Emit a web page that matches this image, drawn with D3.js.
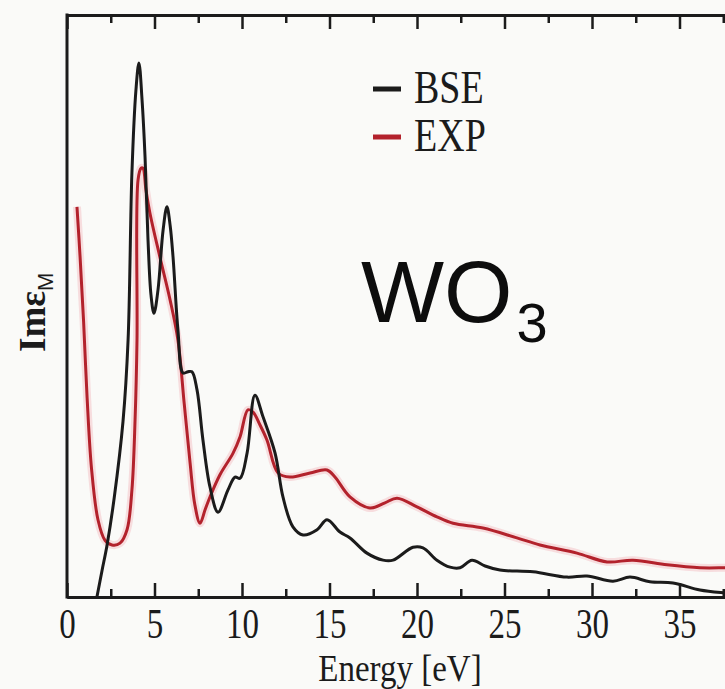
<!DOCTYPE html>
<html>
<head>
<meta charset="utf-8">
<script src="https://cdn.jsdelivr.net/npm/d3@7"></script>
<style>
  html, body { margin: 0; padding: 0; background: #fafaf8; }
  svg { display: block; }
</style>
</head>
<body>
<svg id="chart" width="725" height="689"></svg>
<script>
// Imaginary part of the macroscopic dielectric function of WO3
// Energy in eV, intensity in arbitrary units (0–100)
const bseEnergy = [1.71, 2.0, 2.29, 2.7, 3.2, 3.49, 3.71, 3.94, 4.11, 4.29, 4.46, 4.63, 4.80, 4.97, 5.20, 5.49, 5.71, 5.89, 6.06, 6.34, 6.63, 6.91, 7.14, 7.43, 7.77, 8.17, 8.63, 9.20, 9.60, 9.89, 10.29, 10.74, 11.20, 11.89, 12.34, 12.91, 13.49, 14.29, 14.86, 15.60, 16.17, 17.14, 18.06, 18.63, 19.77, 20.34, 21.14, 21.89, 22.46, 23.14, 23.89, 24.74, 26.63, 28.57, 29.71, 31.2, 32.17, 33.31, 34.63, 36.17, 37.6, 38.0];
const bseValue  = [0, 4.5, 8.9, 17, 30, 43.9, 72.5, 86.7, 91.3, 84.9, 75.2, 61.0, 51.6, 48.5, 52.5, 62.7, 66.7, 63.6, 58.1, 45.6, 38.3, 38.5, 38.5, 35.4, 26.8, 18.8, 14.5, 18.3, 20.5, 20.3, 24.6, 34.5, 30.8, 24.6, 17.1, 12.0, 10.6, 11.5, 13.2, 11.1, 10.1, 7.5, 6.3, 6.3, 8.5, 8.4, 6.3, 5.1, 5.0, 6.3, 5.3, 4.6, 4.3, 3.4, 3.6, 2.7, 3.4, 2.6, 2.4, 1.2, 0.7, 0.6];

const expEnergy = [0.57, 0.75, 0.95, 1.15, 1.4, 1.77, 2.17, 2.57, 3.03, 3.43, 3.71, 3.89, 4.0, 4.06, 4.23, 4.34, 4.51, 4.74, 5.31, 5.89, 6.34, 6.7, 7.03, 7.31, 7.6, 7.89, 8.17, 8.74, 9.49, 9.89, 10.34, 10.63, 11.03, 11.43, 12.06, 12.74, 13.89, 14.86, 15.31, 16.17, 17.31, 18.17, 18.86, 20.0, 21.14, 22.06, 23.77, 25.71, 27.03, 29.14, 30.86, 32.34, 34.29, 36.17, 37.6, 38.0];
const expValue  = [66.7, 58, 47, 34, 22, 13.2, 9.7, 8.9, 9.2, 11.5, 18.3, 30.3, 43.9, 71.3, 73.3, 73.3, 69.6, 65.6, 58.1, 50.8, 43.9, 33, 23, 15.7, 12.6, 14.9, 17.1, 20.9, 24.6, 27.4, 32.0, 31.6, 29.4, 26.8, 21.2, 20.5, 21.2, 21.7, 20.5, 17.1, 15.2, 16.1, 16.9, 15.4, 13.7, 12.6, 11.8, 10.1, 8.9, 7.5, 6.0, 6.3, 5.5, 5.0, 5.0, 5.0];

const majorTicks = [0, 5, 10, 15, 20, 25, 30, 35];
const minorTicks = [2.5, 7.5, 12.5, 17.5, 22.5, 27.5, 32.5, 37.5];
const seriesNames = ["BSE", "EXP"];
const seriesColors = ["#1b1b1b", "#b3222c"];

const svg = d3.select("#chart");
const marginLeft = 67, frameTop = 15, frameBottom = 597;

const x = d3.scaleLinear().domain([0, 38]).range([marginLeft, marginLeft + 38 * 17.5]);
const y = d3.scaleLinear().domain([0, 100]).range([frameBottom, 12]);

const plot = svg.append("g");

// Curves
const line = d3.line().x(d => x(d[0])).y(d => y(d[1])).curve(d3.curveCatmullRom.alpha(0.5));
const bse = bseEnergy.map((e, i) => [e, bseValue[i]]);
const exp = expEnergy.map((e, i) => [e, expValue[i]]);

plot.append("path").datum(exp).attr("d", line)
  .attr("fill", "none").attr("stroke", "#f2a6ae").attr("stroke-width", 8).attr("stroke-opacity", 0.35)
  .attr("stroke-linejoin", "round");
plot.append("path").datum(exp).attr("d", line)
  .attr("fill", "none").attr("stroke", seriesColors[1]).attr("stroke-width", 3)
  .attr("stroke-linejoin", "round");
plot.append("path").datum(bse).attr("d", line)
  .attr("fill", "none").attr("stroke", seriesColors[0]).attr("stroke-width", 3)
  .attr("stroke-linejoin", "round");

// Frame: left edge
svg.append("line").attr("x1", marginLeft).attr("x2", marginLeft).attr("y1", frameTop - 1.5).attr("y2", frameBottom + 1.5)
  .attr("stroke", "#1b1b1b").attr("stroke-width", 3);

// Bottom axis, ticks point inward
const styleAxis = g => {
  g.select(".domain").attr("stroke", "#1b1b1b").attr("stroke-width", 3);
  g.selectAll(".tick line").attr("stroke", "#1b1b1b").attr("stroke-width", 2.5);
};
const xBottom = svg.append("g").attr("transform", `translate(0,${frameBottom})`)
  .call(d3.axisBottom(x).tickValues(majorTicks).tickSize(-14).tickSizeOuter(0).tickFormat(d3.format("d")))
  .call(styleAxis);
xBottom.selectAll(".tick text")
  .attr("y", 0).attr("dy", 0)
  .attr("transform", "translate(0,41) scale(1,1.25)")
  .attr("fill", "#1b1b1b")
  .style("font-family", "'Liberation Serif', 'Times New Roman', serif")
  .style("font-size", "33px");
svg.append("g").attr("transform", `translate(0,${frameBottom})`)
  .call(d3.axisBottom(x).tickValues(minorTicks).tickSize(-8).tickSizeOuter(0).tickFormat(""))
  .call(styleAxis);

// Top axis, ticks point inward
svg.append("g").attr("transform", `translate(0,${frameTop})`)
  .call(d3.axisTop(x).tickValues(majorTicks).tickSize(-14).tickSizeOuter(0).tickFormat(""))
  .call(styleAxis);
svg.append("g").attr("transform", `translate(0,${frameTop})`)
  .call(d3.axisTop(x).tickValues(minorTicks).tickSize(-8).tickSizeOuter(0).tickFormat(""))
  .call(styleAxis);

// Axis titles
svg.append("text")
  .attr("transform", "translate(400,681) scale(1,1.18)")
  .attr("text-anchor", "middle")
  .attr("fill", "#1b1b1b")
  .style("font-family", "'Liberation Serif', 'Times New Roman', serif")
  .style("font-size", "33px")
  .text("Energy [eV]");

const yTitle = svg.append("text")
  .attr("transform", "translate(45,352) rotate(-90)")
  .attr("fill", "#1b1b1b")
  .style("font-family", "'Liberation Serif', 'Times New Roman', serif")
  .style("font-weight", "bold")
  .style("font-size", "37px");
yTitle.append("tspan").text("Imε");
yTitle.append("tspan").attr("dy", 8)
  .style("font-family", "'Liberation Sans', Arial, sans-serif")
  .style("font-size", "22px").style("font-weight", "normal")
  .text("M");

// Legend
const legend = svg.append("g");
seriesNames.forEach((name, i) => {
  const cy = 89 + i * 48;
  legend.append("line").attr("x1", 373).attr("x2", 401).attr("y1", cy).attr("y2", cy)
    .attr("stroke", seriesColors[i]).attr("stroke-width", 5);
  legend.append("text")
    .attr("transform", `translate(414,${cy + 14}) scale(1,1.2)`)
    .attr("fill", "#1b1b1b")
    .style("font-family", "'Liberation Serif', 'Times New Roman', serif")
    .style("font-size", "38px")
    .text(name);
});

// Compound label
const label = svg.append("text")
  .attr("x", 361).attr("y", 322)
  .attr("fill", "#0d0d0d")
  .style("font-family", "'Liberation Sans', Arial, sans-serif")
  .style("font-size", "88px");
label.append("tspan").text("WO");
label.append("tspan").attr("dx", 4).attr("dy", 20).style("font-size", "56px").text("3");
</script>
</body>
</html>
